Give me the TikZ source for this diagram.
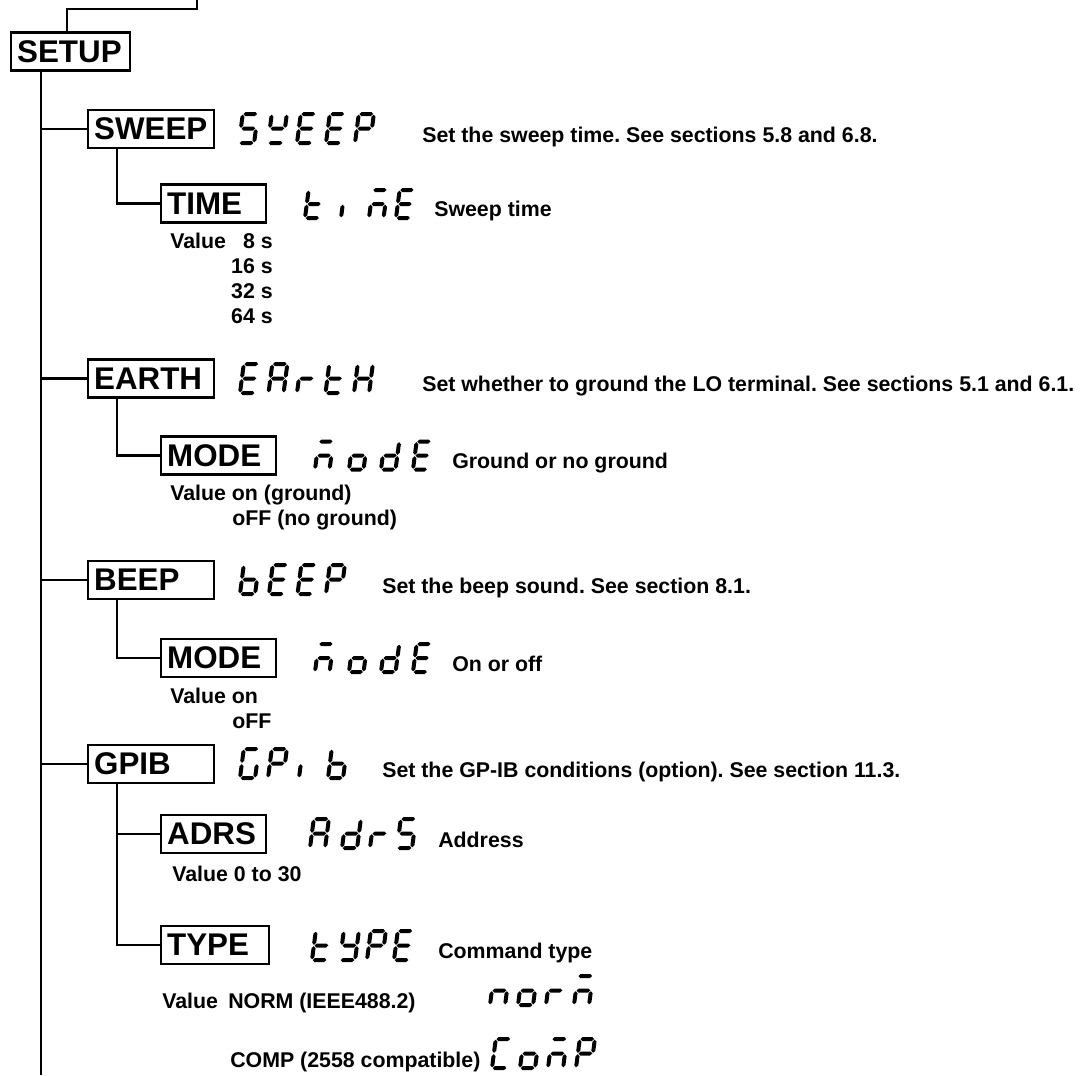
\documentclass[tikz,border=0pt]{standalone}
\usepackage{fontspec}
\setmainfont{Liberation Sans}
% seven-segment glyph helpers
\newcommand\sgk{0.13}
\newcommand\sgt{2.0}
\newcommand\sgp{0.7}
\newcommand\hseg[3]{%
 \fill ({\sgx+(#1)+\sgk*(#3)},{\sgy-(#3)})
  -- ({\sgx+(#1)+\sgt+\sgk*((#3)+\sgt)},{\sgy-(#3)-\sgt})
  -- ({\sgx+(#2)-\sgt+\sgk*((#3)+\sgt)},{\sgy-(#3)-\sgt})
  -- ({\sgx+(#2)+\sgk*(#3)},{\sgy-(#3)})
  -- ({\sgx+(#2)-\sgt+\sgk*((#3)-\sgt)},{\sgy-(#3)+\sgt})
  -- ({\sgx+(#1)+\sgt+\sgk*((#3)-\sgt)},{\sgy-(#3)+\sgt}) -- cycle;}
\newcommand\vseg[3]{%
 \fill ({\sgx+(#1)+\sgk*(#2)},{\sgy-(#2)})
  -- ({\sgx+(#1)+\sgt+\sgk*((#2)+\sgt)},{\sgy-(#2)-\sgt})
  -- ({\sgx+(#1)+\sgt+\sgk*((#3)-\sgt)},{\sgy-(#3)+\sgt})
  -- ({\sgx+(#1)+\sgk*(#3)},{\sgy-(#3)})
  -- ({\sgx+(#1)-\sgt+\sgk*((#3)-\sgt)},{\sgy-(#3)+\sgt})
  -- ({\sgx+(#1)-\sgt+\sgk*((#2)+\sgt)},{\sgy-(#2)-\sgt}) -- cycle;}
\newcommand\sega{\hseg{\sgp}{\sgw-\sgp}{\sgh}}
\newcommand\segb{\vseg{\sgw}{\sgh/2+\sgp}{\sgh-\sgp}}
\newcommand\segc{\vseg{\sgw}{\sgp}{\sgh/2-\sgp}}
\newcommand\segd{\hseg{\sgp}{\sgw-\sgp}{0}}
\newcommand\sege{\vseg{0}{\sgp}{\sgh/2-\sgp}}
\newcommand\segf{\vseg{0}{\sgh/2+\sgp}{\sgh-\sgp}}
\newcommand\segg{\hseg{\sgp}{\sgw-\sgp}{\sgh/2}}
\newcommand\sevg[4]{\def\sgx{#1}\def\sgy{#2}\def\sgh{#3}\pgfmathsetmacro\sgw{0.52*#3}\foreach \s in #4 {\csname seg\s\endcsname}}
\def\zzS{a,f,g,c,d}
\def\zzW{f,b,g,d}
\def\zzE{a,f,g,e,d}
\def\zzP{a,b,f,g,e}
\def\zzt{f,e,g,d}
\def\zzi{e}
\def\zzm{a,g,e,c}
\def\zzA{a,b,c,e,f,g}
\def\zzr{e,g}
\def\zzH{b,c,e,f,g}
\def\zzo{c,d,e,g}
\def\zzd{b,c,d,e,g}
\def\zzb{c,d,e,f,g}
\def\zzG{a,f,e,d,c}
\def\zzY{b,c,d,f,g}
\def\zzC{a,f,e,d}
\def\zzn{c,e,g}
\begin{document}
\begin{tikzpicture}[x=0.75pt,y=-0.75pt,
  wire/.style={line width=1.8pt},
  bx/.style={draw, line width=1.8pt, anchor=west, minimum height=28.5pt, inner xsep=4.5pt, inner ysep=0pt, align=left, font=\fontsize{23.5}{26}\selectfont\bfseries},
  lab/.style={anchor=base west, inner sep=0pt, font=\fontsize{16}{18}\selectfont\bfseries\frenchspacing},
  labr/.style={lab, anchor=base east}]
\useasboundingbox (0,0) rectangle (1085,1075);
% boxes
\node[bx, text width=80.25pt] (setup) at (10,51.5) {SETUP};
\node[bx, text width=85.5pt] (sweep) at (87,129) {SWEEP};
\node[bx, text width=69.75pt] (time) at (160,203.5) {TIME};
\node[bx, text width=85.5pt] (earth) at (87,378.5) {EARTH};
\node[bx, text width=77.25pt] (mode1) at (160,455.5) {MODE};
\node[bx, text width=85.5pt] (beep) at (87,580) {BEEP};
\node[bx, text width=77.25pt] (mode2) at (160,658) {MODE};
\node[bx, text width=85.5pt] (gpib) at (87,764) {GPIB};
\node[bx, text width=69.75pt] (adrs) at (160,834) {ADRS};
\node[bx, text width=72pt] (type) at (160,945) {TYPE};
% connectors
\coordinate (top) at (197,0);
\coordinate (tj) at (67,9);
\coordinate (bot) at (41,1075);
\coordinate (lv) at (117,0);
\draw[wire] (top) |- (tj) -- (tj |- setup.north);
\draw[wire] (setup.south -| bot) -- (bot);
\foreach \n in {sweep,earth,beep,gpib} {\draw[wire] (\n.west -| bot) -- (\n.west);}
\draw[wire] (sweep.south -| lv) |- (time.west);
\draw[wire] (earth.south -| lv) |- (mode1.west);
\draw[wire] (beep.south -| lv) |- (mode2.west);
\draw[wire] (gpib.south -| lv) |- (type.west);
\draw[wire] (adrs.west -| lv) -- (adrs.west);
% texts
\node[lab] (d1) at (422,142) {Set the sweep time. See sections 5.8 and 6.8.};
\node[lab] (d2) at (434,216.5) {Sweep time};
\node[lab] (v1) at (170,248) {Value};
\node[labr] (v2) at (273,248) {8 s};
\node[labr] (v3) at (273,273) {16 s};
\node[labr] (v4) at (273,298) {32 s};
\node[labr] (v5) at (273,323) {64 s};
\node[lab] (d3) at (422,391.5) {Set whether to ground the LO terminal. See sections 5.1 and 6.1.};
\node[lab] (d4) at (452,468.5) {Ground or no ground};
\node[lab] (v6) at (170,500) {Value on (ground)};
\node[lab] (v7) at (232,525) {oFF (no ground)};
\node[lab] (d5) at (382,593) {Set the beep sound. See section 8.1.};
\node[lab] (d6) at (452,671) {On or off};
\node[lab] (v8) at (170,703) {Value on};
\node[lab] (v9) at (232,728) {oFF};
\node[lab] (d7) at (382,777) {Set the GP-IB conditions (option). See section 11.3.};
\node[lab] (d8) at (438,847) {Address};
\node[lab] (v10) at (172,881) {Value 0 to 30};
\node[lab] (d9) at (438,958) {Command type};
\node[lab] (v11) at (162,1008) {Value};
\node[lab] (v12) at (228,1008) {NORM (IEEE488.2)};
\node[lab] (v13) at (230,1067) {COMP (2558 compatible)};
% seven-segment displays
\sevg{239}{143}{29}{\zzS}\sevg{268}{143}{29}{\zzW}\sevg{297}{143}{29}{\zzE}\sevg{326}{143}{29}{\zzE}\sevg{355}{143}{29}{\zzP}
\sevg{305}{218}{28}{\zzt}\sevg{341}{218}{28}{\zzi}\sevg{369}{218}{28}{\zzm}\sevg{396}{218}{28}{\zzE}
\sevg{240}{393}{29}{\zzE}\sevg{268.5}{393}{29}{\zzA}\sevg{297}{393}{29}{\zzr}\sevg{325.5}{393}{29}{\zzt}\sevg{354}{393}{29}{\zzH}
\sevg{315}{469.5}{28}{\zzm}\sevg{349}{469.5}{28}{\zzo}\sevg{381}{469.5}{28}{\zzd}\sevg{413}{469.5}{28}{\zzE}
\sevg{240}{594}{29}{\zzb}\sevg{269}{594}{29}{\zzE}\sevg{297.5}{594}{29}{\zzE}\sevg{326}{594}{29}{\zzP}
\sevg{315}{672}{28}{\zzm}\sevg{349}{672}{28}{\zzo}\sevg{381}{672}{28}{\zzd}\sevg{413}{672}{28}{\zzE}
\sevg{240}{778}{29}{\zzG}\sevg{268}{778}{29}{\zzP}\sevg{299}{778}{29}{\zzi}\sevg{328}{778}{29}{\zzb}
\sevg{310}{848}{29}{\zzA}\sevg{342}{848}{29}{\zzd}\sevg{370}{848}{29}{\zzr}\sevg{397}{848}{29}{\zzS}
\sevg{312}{960}{29}{\zzt}\sevg{340}{960}{29}{\zzY}\sevg{367}{960}{29}{\zzP}\sevg{394}{960}{29}{\zzE}
\sevg{490}{1005}{29}{\zzn}\sevg{518}{1005}{29}{\zzo}\sevg{546}{1005}{29}{\zzr}\sevg{574}{1005}{29}{\zzm}
\sevg{492}{1068}{29}{\zzC}\sevg{520}{1068}{29}{\zzo}\sevg{548}{1068}{29}{\zzm}\sevg{576}{1068}{29}{\zzP}
\end{tikzpicture}
\end{document}
